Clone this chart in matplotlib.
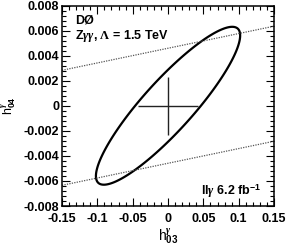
import numpy as np
import matplotlib
matplotlib.use("Agg")
import matplotlib.pyplot as plt
from matplotlib.ticker import MultipleLocator

# limit contour: centre, 1D extents and correlation
h03_centre = 0.0
h04_centre = 0.0
h03_extent = 0.102
h04_extent = 0.0063
h03_h04_corr = 0.89

# SM point cross
sm_h03 = [0.0]
sm_h04 = [0.0]
sm_h03_err = [0.042]
sm_h04_err = [0.0023]

# dotted bound lines (values at the plot edges)
bound_h03 = [-0.15, 0.15]
bound_upper_h04 = [0.00283, 0.00635]
bound_lower_h04 = [-0.00635, -0.00283]

plt.rcParams["font.family"] = ["Liberation Sans", "DejaVu Sans"]
plt.rcParams["font.weight"] = "bold"
plt.rcParams["mathtext.fontset"] = "custom"
plt.rcParams["mathtext.rm"] = "Liberation Serif"
plt.rcParams["mathtext.it"] = "Liberation Serif:italic"
plt.rcParams["mathtext.bf"] = "Liberation Sans:bold"

fig = plt.figure(figsize=(2.87, 2.46), dpi=100)
ax = fig.add_axes([0.216, 0.1626, 0.739, 0.815])

# contour of the quadratic form = 1
gx = np.linspace(-0.15, 0.15, 600)
gy = np.linspace(-0.008, 0.008, 600)
GX, GY = np.meshgrid(gx, gy)
u = (GX - h03_centre) / h03_extent
v = (GY - h04_centre) / h04_extent
rho = h03_h04_corr
chi = (u**2 - 2 * rho * u * v + v**2) / (1 - rho**2)
ax.contour(GX, GY, chi, levels=[1.0], colors="black", linewidths=1.6)

ax.plot(bound_h03, bound_upper_h04, color="#555555", lw=0.9, ls=(0, (1, 1)))
ax.plot(bound_h03, bound_lower_h04, color="#555555", lw=0.9, ls=(0, (1, 1)))

ax.errorbar(sm_h03, sm_h04, xerr=sm_h03_err, yerr=sm_h04_err, fmt="none",
            ecolor="#222222", elinewidth=1.0, capsize=0)

ax.set_xlim(-0.15, 0.15)
ax.set_ylim(-0.008, 0.008)
ax.xaxis.set_major_locator(MultipleLocator(0.05))
ax.xaxis.set_minor_locator(MultipleLocator(0.01))
ax.yaxis.set_major_locator(MultipleLocator(0.002))
ax.yaxis.set_minor_locator(MultipleLocator(0.0004))
ax.xaxis.set_major_formatter(plt.FuncFormatter(lambda val, pos: f"{val:g}" if abs(val) > 1e-9 else "0"))
ax.yaxis.set_major_formatter(plt.FuncFormatter(lambda val, pos: f"{val:g}" if abs(val) > 1e-9 else "0"))
ax.tick_params(which="both", direction="in", top=True, right=True, width=0.8,
               labelsize=9)
ax.tick_params(axis="x", pad=5)
ax.tick_params(axis="y", pad=2)
ax.tick_params(which="major", length=6)
ax.tick_params(which="minor", length=3)
for s in ax.spines.values():
    s.set_linewidth(1.1)

ax.set_xlabel(r"h$^{\gamma}_{\mathbf{03}}$", fontsize=10, labelpad=1)
ax.set_ylabel(r"h$^{\gamma}_{\mathbf{04}}$", fontsize=9, labelpad=4)

ax.text(0.06, 0.925, "DØ", transform=ax.transAxes, fontsize=9, fontweight="bold",
        va="center")
ax.text(0.06, 0.85, r"Z$\gamma\gamma$, $\Lambda$ = 1.5 TeV", transform=ax.transAxes,
        fontsize=9, fontweight="bold", va="center")
ax.text(0.94, 0.075, r"ll$\gamma$ 6.2 fb$^{\mathbf{-1}}$", transform=ax.transAxes,
        fontsize=9, fontweight="bold", va="center", ha="right")

fig.savefig("out.png", dpi=100)
